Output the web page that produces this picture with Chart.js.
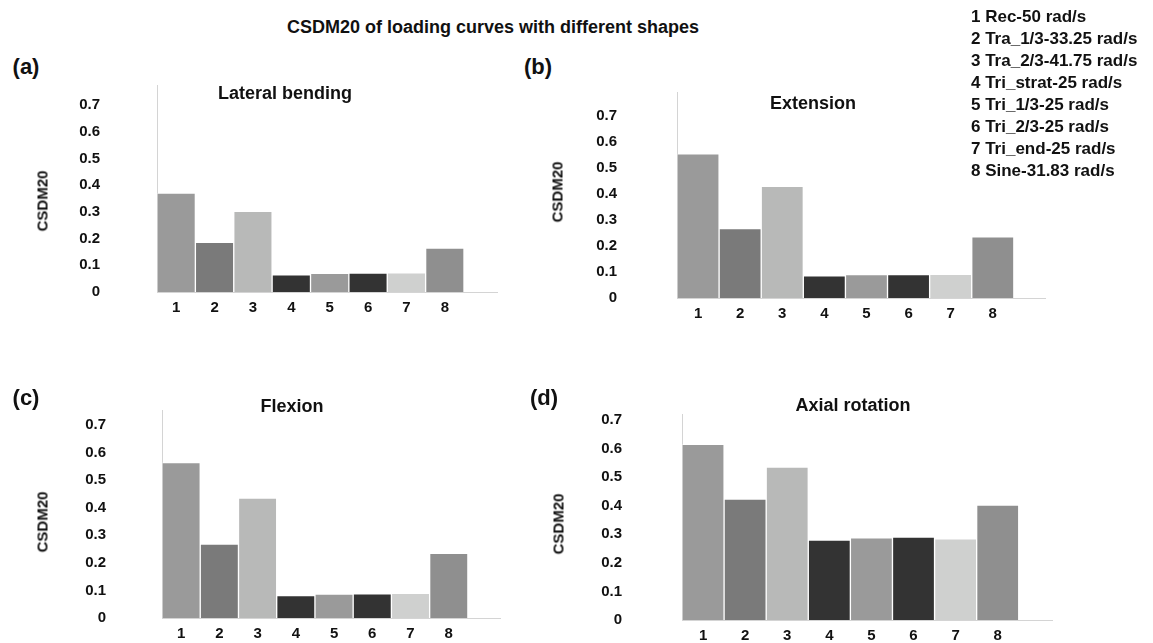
<!DOCTYPE html>
<html lang="en">
<head>
<meta charset="UTF-8">
<title>CSDM20 of loading curves with different shapes</title>
<script src="https://cdn.jsdelivr.net/npm/chart.js@4.4.0/dist/chart.umd.min.js"></script>
<style>
  body { margin: 0; width: 1153px; height: 643px; overflow: hidden; background: #fff; position: relative;
         font-family: 'Liberation Sans', Arial, sans-serif; font-weight: bold; color: #111; }
  .txt { position: absolute; white-space: nowrap; transform: translate(-50%, -50%); }
  .ytitle { position: absolute; white-space: nowrap; font-size: 15px; transform: translate(-50%, -50%) rotate(-90deg); }
  canvas { position: absolute; }
  #legend { position: absolute; left: 971px; top: 5.6px; font-size: 17px; line-height: 22.1px; white-space: nowrap; z-index: 2; }
</style>
</head>
<body>
<div class="txt" style="left:493px; top:27px; font-size:18px;">CSDM20 of loading curves with different shapes</div>
<div id="legend"></div>
<script>
  // data
  const categories = ['1', '2', '3', '4', '5', '6', '7', '8'];
  const legendItems = ['1 Rec-50 rad/s', '2 Tra_1/3-33.25 rad/s', '3 Tra_2/3-41.75 rad/s', '4 Tri_strat-25 rad/s',
                       '5 Tri_1/3-25 rad/s', '6 Tri_2/3-25 rad/s', '7 Tri_end-25 rad/s', '8 Sine-31.83 rad/s'];
  const yTicks = [0, 0.1, 0.2, 0.3, 0.4, 0.5, 0.6, 0.7];
  const lateralBending = [0.370, 0.186, 0.302, 0.064, 0.070, 0.071, 0.072, 0.164];
  const extension      = [0.555, 0.267, 0.430, 0.085, 0.090, 0.090, 0.091, 0.235];
  const flexion        = [0.563, 0.268, 0.435, 0.081, 0.087, 0.088, 0.089, 0.234];
  const axialRotation  = [0.615, 0.423, 0.535, 0.280, 0.288, 0.290, 0.284, 0.402];

  const barColors = ['#9a9a9a', '#7a7a7a', '#b8b9b8', '#333333', '#9a9a9a', '#333333', '#cfd0cf', '#8f8f8f'];
  const FONT = "'Liberation Sans', Arial, sans-serif";

  document.getElementById('legend').innerHTML = legendItems.map(t => '<div>' + t + '</div>').join('');

  // chart.js reserves the tick padding twice in the axis size, so padLeft is reduced by it
  const panels = [
    { letter: '(a)', title: 'Lateral bending', values: lateralBending,
      left: 0, top: 85, width: 500, height: 239, padLeft: 22.15, padRight: 3, tickPad: 57, yMax: 0.775, xMax: 9.36,
      letterPos: [26, 67], titlePos: [285, 93], yTitlePos: [42, 201] },
    { letter: '(b)', title: 'Extension', values: extension,
      left: 500, top: 92, width: 550, height: 238, padLeft: 36.15, padRight: 5, tickPad: 60, yMax: 0.793, xMax: 9.24,
      letterPos: [538, 67], titlePos: [813, 103], yTitlePos: [557, 192] },
    { letter: '(c)', title: 'Flexion', values: flexion,
      left: 0, top: 410, width: 503, height: 240, padLeft: 29.15, padRight: 3, tickPad: 56, yMax: 0.754, xMax: 9.34,
      letterPos: [26, 398], titlePos: [292, 406], yTitlePos: [42, 522] },
    { letter: '(d)', title: 'Axial rotation', values: axialRotation,
      left: 500, top: 414, width: 556, height: 238, padLeft: 41.15, padRight: 4, tickPad: 60, yMax: 0.721, xMax: 9.29,
      letterPos: [544, 398], titlePos: [853, 405], yTitlePos: [558, 524] }
  ];

  function addText(cls, text, pos, size) {
    const d = document.createElement('div');
    d.className = cls;
    d.textContent = text;
    d.style.left = pos[0] + 'px';
    d.style.top = pos[1] + 'px';
    if (size) d.style.fontSize = size + 'px';
    document.body.appendChild(d);
  }

  const tickFont = { family: FONT, size: 15, weight: 'bold' };
  const axisBorder = { display: true, color: '#d4d4d4', width: 1 };

  panels.forEach(p => {
    const canvas = document.createElement('canvas');
    canvas.width = p.width;
    canvas.height = p.height;
    canvas.style.left = p.left + 'px';
    canvas.style.top = p.top + 'px';
    document.body.appendChild(canvas);

    addText('txt', p.letter, p.letterPos, 22);
    addText('txt', p.title, p.titlePos, 18);
    addText('ytitle', 'CSDM20', p.yTitlePos);

    new Chart(canvas.getContext('2d'), {
      type: 'bar',
      data: {
        datasets: [{
          data: p.values.map((v, i) => ({ x: i + 1, y: v })),
          backgroundColor: barColors,
          borderColor: 'rgba(255,255,255,0.35)',
          borderWidth: 1,
          barPercentage: 1,
          categoryPercentage: 1
        }]
      },
      options: {
        responsive: false,
        animation: false,
        layout: { padding: { left: p.padLeft, right: p.padRight, top: 0, bottom: 0 } },
        plugins: { legend: { display: false }, tooltip: { enabled: false } },
        scales: {
          x: {
            type: 'linear', min: 0.5, max: p.xMax, offset: false,
            grid: { display: false, drawTicks: false },
            border: axisBorder,
            afterBuildTicks: s => { s.ticks = categories.map((c, i) => ({ value: i + 1 })); },
            afterFit: s => { s.paddingLeft = 0; s.paddingRight = 0; },
            ticks: { padding: 7, color: '#111', font: tickFont, autoSkip: false, maxRotation: 0,
                     callback: v => categories[v - 1] }
          },
          y: {
            min: 0, max: p.yMax,
            grid: { display: false, drawTicks: false },
            border: axisBorder,
            afterBuildTicks: s => { s.ticks = yTicks.map(v => ({ value: v })); },
            afterFit: s => { s.paddingTop = 0; s.paddingBottom = 0; },
            ticks: { padding: p.tickPad, color: '#111', font: tickFont,
                     callback: v => v === 0 ? '0' : v.toFixed(1) }
          }
        }
      }
    });
  });
</script>
</body>
</html>
